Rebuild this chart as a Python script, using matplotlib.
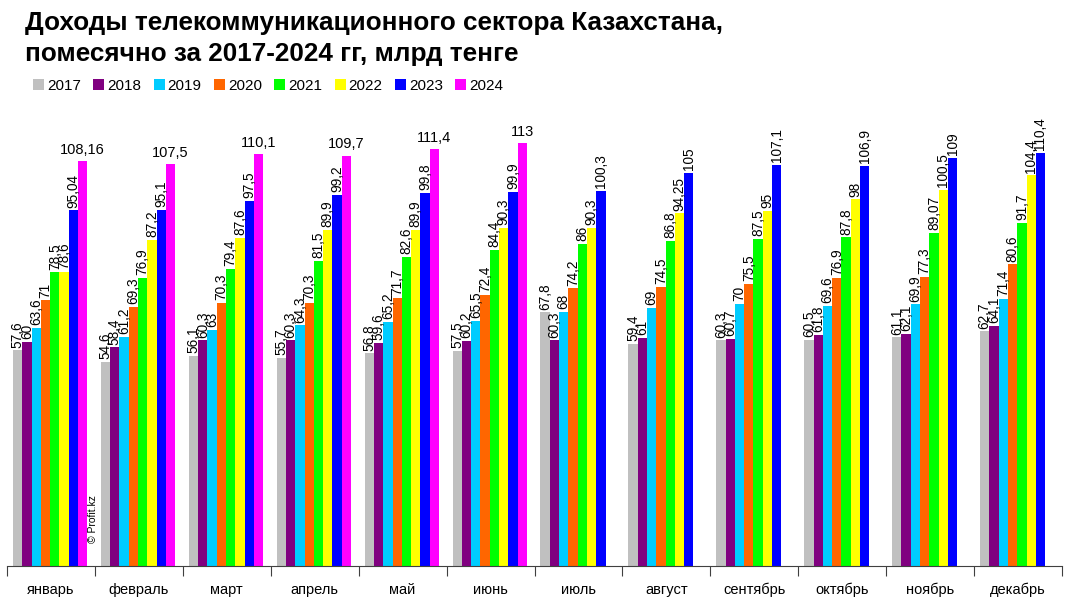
import matplotlib
matplotlib.use("Agg")
import matplotlib.pyplot as plt
from matplotlib.patches import Rectangle

months = ["январь", "февраль", "март", "апрель", "май", "июнь", "июль",
          "август", "сентябрь", "октябрь", "ноябрь", "декабрь"]
years = ["2017", "2018", "2019", "2020", "2021", "2022", "2023", "2024"]
colors = ["#C0C0C0", "#800080", "#00CCFF", "#FF6600", "#00FF00", "#FFFF00", "#0000FF", "#FF00FF"]

y2017 = [57.6, 54.6, 56.1, 55.7, 56.8, 57.5, 67.8, 59.4, 60.3, 60.5, 61.1, 62.7]
y2018 = [60, 58.4, 60.3, 60.3, 59.6, 60.2, 60.3, 61, 60.7, 61.8, 62.1, 64.1]
y2019 = [63.6, 61.2, 63, 64.3, 65.2, 65.5, 68, 69, 70, 69.6, 69.9, 71.4]
y2020 = [71, 69.3, 70.3, 70.3, 71.7, 72.4, 74.2, 74.5, 75.5, 76.9, 77.3, 80.6]
y2021 = [78.5, 76.9, 79.4, 81.5, 82.6, 84.4, 86, 86.8, 87.5, 87.8, 89.07, 91.7]
y2022 = [78.6, 87.2, 87.6, 89.9, 89.9, 90.3, 90.3, 94.25, 95, 98, 100.5, 104.4]
y2023 = [95.04, 95.1, 97.5, 99.2, 99.8, 99.9, 100.3, 105, 107.1, 106.9, 109, 110.4]
y2024 = [108.16, 107.5, 110.1, 109.7, 111.4, 113]
series = [y2017, y2018, y2019, y2020, y2021, y2022, y2023, y2024]

plt.rcParams['font.family'] = ['Liberation Sans', 'DejaVu Sans']

fig = plt.figure(figsize=(10.65, 6.0), dpi=100)
ax = fig.add_axes([7/1065, 34/600, 1055/1065, 449/600])

w = 0.1057
off = 0.068
for j, vals in enumerate(series):
    xs = [i + off + (j + 0.5) * w for i in range(len(vals))]
    ax.bar(xs, vals, width=w, color=colors[j], linewidth=0)
    for x, v in zip(xs, vals):
        lab = f"{v:g}".replace(".", ",")
        if j == 7:
            ax.annotate(lab, (x, v), xytext=(0, 3), textcoords="offset points",
                        ha="center", va="bottom", fontsize=10.5)
        else:
            ax.annotate(lab, (x, v), xytext=(0, 2), textcoords="offset points",
                        ha="center", va="bottom", rotation=90, fontsize=9.8)

ax.set_xlim(0, 12)
ax.set_ylim(0, 120)
for s in ["top", "right", "left"]:
    ax.spines[s].set_visible(False)
ax.spines["bottom"].set_color("#404040")
ax.set_yticks([])
ax.set_xticks([i + 0.5 for i in range(12)])
ax.set_xticklabels(months, fontsize=10.5)
ax.tick_params(axis="x", which="major", length=0, pad=12)
ax.set_xticks(list(range(13)), minor=True)
ax.tick_params(axis="x", which="minor", length=7, color="#404040", width=0.8)

fig.text(0.087, 0.095, "© Profit.kz", rotation=90, fontsize=7.5, ha="center", va="bottom")

fig.text(25/1065, 1 - 30/600, "Доходы телекоммуникационного сектора Казахстана,",
         fontsize=18.8, fontweight="bold", va="baseline", ha="left")
fig.text(25/1065, 1 - 61/600, "помесячно за 2017-2024 гг, млрд тенге",
         fontsize=18.8, fontweight="bold", va="baseline", ha="left")

x0 = 33
for k, (yr, c) in enumerate(zip(years, colors)):
    xl = x0 + k * 60.3
    fig.patches.append(Rectangle(((xl) / 1065, 1 - 90/600), 11/1065, 11/600,
                                 transform=fig.transFigure, facecolor=c, edgecolor="none"))
    fig.text((xl + 14) / 1065, 1 - 90/600, yr, fontsize=11, va="baseline", ha="left")

fig.savefig("out.png", dpi=100)
